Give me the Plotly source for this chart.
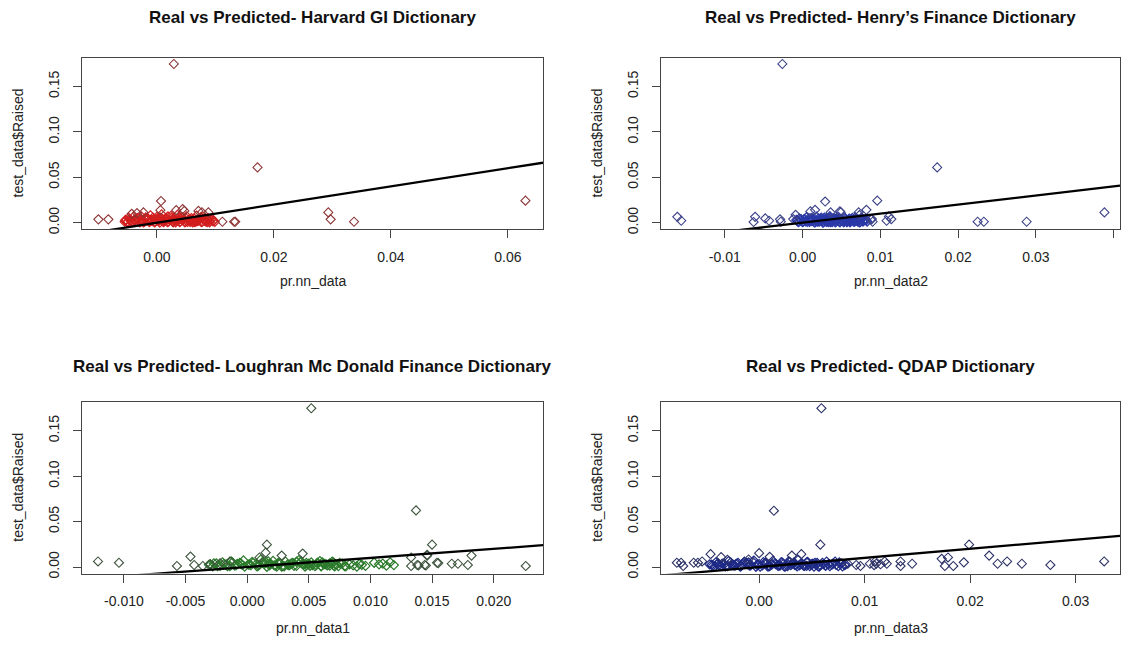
import plotly.graph_objects as go

# ---------------- data ----------------
titles = ["Real vs Predicted- Harvard GI Dictionary",
          "Real vs Predicted- Henry\u2019s Finance Dictionary",
          "Real vs Predicted- Loughran Mc Donald Finance Dictionary",
          "Real vs Predicted- QDAP Dictionary"]
x_titles = ["pr.nn_data", "pr.nn_data2", "pr.nn_data1", "pr.nn_data3"]
y_title = "test_data$Raised"
dense_colors = ["#d21e1e", "#2a38a8", "#2b7a2b", "#1e2a86"]
spread_colors = ["#8e3434", "#3c4288", "#3f543f", "#2c3266"]

# panel 1 (Harvard GI)
s1x = [-0.0100,-0.0083,0.0029,0.0172,0.0293,0.0297,0.0337,0.0630,0.0112,0.0132,
       0.0134,0.0007,0.0044,0.0033,0.0006,-0.0023,-0.0043,0.0071,0.0088,-0.0034,
       0.0047,0.0077]
s1y = [0.0037,0.0037,0.1747,0.0609,0.0113,0.0037,0.0011,0.0243,0.0011,0.0011,
       0.0011,0.0239,0.0149,0.0138,0.0138,0.0113,0.0098,0.0130,0.0113,0.0105,
       0.0130,0.0115]
c1x = [-0.0055,-0.0053,-0.0050,-0.0048,-0.0045,-0.0042,-0.0040,-0.0037,-0.0035,-0.0032,
       -0.0029,-0.0027,-0.0024,-0.0021,-0.0019,-0.0016,-0.0013,-0.0011,-0.0008,-0.0005,
       -0.0003,0.0000,0.0002,0.0005,0.0008,0.0010,0.0013,0.0016,0.0018,0.0021,
       0.0024,0.0027,0.0029,0.0032,0.0035,0.0037,0.0040,0.0043,0.0046,0.0048,
       0.0051,0.0054,0.0057,0.0059,0.0062,0.0065,0.0068,0.0070,0.0073,0.0076,
       0.0079,0.0081,0.0084,0.0087,0.0090,0.0093,0.0096,0.0099,0.0012,0.0027,
       0.0041,0.0055,-0.0009,0.0019,0.0063,-0.0020,0.0034,0.0006,-0.0038,0.0071]
c1y = [0.0012,0.0035,0.0008,0.0052,0.0021,0.0004,0.0067,0.0030,0.0015,0.0048,
       0.0003,0.0072,0.0026,0.0011,0.0058,0.0036,0.0006,0.0081,0.0019,0.0044,
       0.0009,0.0063,0.0027,0.0002,0.0091,0.0040,0.0014,0.0055,0.0007,0.0033,
       0.0076,0.0018,0.0047,0.0005,0.0085,0.0029,0.0012,0.0061,0.0038,0.0003,
       0.0070,0.0022,0.0010,0.0050,0.0031,0.0006,0.0079,0.0017,0.0043,0.0008,
       0.0064,0.0025,0.0012,0.0054,0.0004,0.0035,0.0016,0.0009,0.0024,0.0011,
       0.0045,0.0016,0.0030,0.0069,0.0013,0.0043,0.0020,0.0057,0.0026,0.0036]

# panel 2 (Henry)
s2x = [-0.0161,-0.0156,-0.0061,-0.0063,-0.0048,-0.0043,-0.0029,-0.0028,-0.0026,-0.0012,
       -0.0009,0.0029,0.0096,0.0082,0.0016,0.0010,0.0036,0.0049,0.0073,0.0088,
       0.0090,0.0108,0.0114,0.0111,0.0173,0.0225,0.0233,0.0288,0.0388,0.0048,
       0.0072,0.0089]
s2y = [0.0065,0.0022,0.0065,0.0008,0.0047,0.0022,0.0037,0.0011,0.1747,0.0040,
       0.0087,0.0233,0.0243,0.0142,0.0142,0.0124,0.0113,0.0113,0.0083,0.0040,
       0.0011,0.0022,0.0040,0.0069,0.0609,0.0011,0.0011,0.0011,0.0113,0.0125,
       0.0113,0.0040]
c2x = [-0.0008,-0.0006,-0.0004,-0.0002,0.0000,0.0002,0.0004,0.0005,0.0007,0.0009,
       0.0011,0.0012,0.0014,0.0016,0.0018,0.0019,0.0021,0.0023,0.0025,0.0026,
       0.0028,0.0030,0.0032,0.0033,0.0035,0.0037,0.0039,0.0040,0.0042,0.0044,
       0.0046,0.0047,0.0049,0.0051,0.0053,0.0054,0.0056,0.0058,0.0060,0.0061,
       0.0063,0.0065,0.0067,0.0068,0.0070,0.0072,0.0074,0.0075,0.0077,0.0079,
       0.0081,0.0083,0.0022,0.0031,0.0045,0.0052,0.0013,0.0038,0.0066,0.0017,
       0.0027,0.0048,0.0057,0.0036,0.0008,0.0071,0.0043,0.0024,0.0059,0.0034]
c2y = [0.0030,0.0012,0.0048,0.0021,0.0006,0.0039,0.0015,0.0060,0.0026,0.0009,
       0.0052,0.0018,0.0035,0.0004,0.0068,0.0024,0.0011,0.0044,0.0029,0.0002,
       0.0057,0.0016,0.0033,0.0008,0.0072,0.0041,0.0019,0.0050,0.0005,0.0027,
       0.0063,0.0013,0.0036,0.0022,0.0007,0.0055,0.0031,0.0017,0.0046,0.0003,
       0.0038,0.0025,0.0011,0.0059,0.0020,0.0034,0.0008,0.0049,0.0015,0.0028,
       0.0037,0.0012,0.0023,0.0010,0.0032,0.0018,0.0040,0.0006,0.0025,0.0014,
       0.0045,0.0019,0.0009,0.0028,0.0017,0.0013,0.0021,0.0035,0.0030,0.0011]

# panel 3 (Loughran Mc Donald)
s3x = [-0.0121,-0.0104,-0.0057,-0.0046,-0.0043,-0.0036,-0.0030,0.0016,0.0052,0.0137,
       0.0150,0.0226,0.0182,0.0179,0.0166,0.0171,0.0154,0.0155,0.0146,0.0133,
       0.0133,0.0138,0.0144,0.0045,0.0028,0.0015,0.0010,0.0139,0.0145,0.0146,
       -0.0022,-0.0014]
s3y = [0.0061,0.0047,0.0011,0.0115,0.0022,0.0011,0.0033,0.0246,0.1747,0.0623,
       0.0246,0.0011,0.0126,0.0022,0.0036,0.0036,0.0047,0.0043,0.0126,0.0105,
       0.0011,0.0022,0.0022,0.0148,0.0126,0.0158,0.0105,0.0017,0.0017,0.0134,
       0.0040,0.0060]
c3x = [-0.0031,-0.0027,-0.0024,-0.0020,-0.0017,-0.0013,-0.0010,-0.0006,-0.0003,0.0001,
       0.0004,0.0008,0.0011,0.0014,0.0018,0.0021,0.0025,0.0028,0.0031,0.0035,
       0.0038,0.0042,0.0045,0.0048,0.0052,0.0055,0.0059,0.0062,0.0065,0.0069,
       0.0072,0.0075,0.0079,0.0083,0.0086,0.0089,0.0093,0.0096,0.0103,0.0107,
       0.0110,0.0113,0.0116,0.0119,0.0012,0.0023,0.0033,0.0040,0.0050,0.0060,
       0.0067,0.0003,-0.0008,0.0017,0.0029,0.0046,0.0057,0.0070,0.0080,0.0091]
c3y = [0.0024,0.0041,0.0010,0.0052,0.0030,0.0063,0.0015,0.0045,0.0072,0.0027,
       0.0055,0.0008,0.0081,0.0036,0.0019,0.0068,0.0042,0.0005,0.0059,0.0031,
       0.0013,0.0076,0.0038,0.0022,0.0050,0.0009,0.0065,0.0033,0.0017,0.0060,
       0.0026,0.0044,0.0011,0.0030,0.0018,0.0005,0.0024,0.0012,0.0047,0.0029,
       0.0038,0.0015,0.0052,0.0021,0.0048,0.0016,0.0028,0.0058,0.0035,0.0012,
       0.0040,0.0020,0.0034,0.0062,0.0011,0.0026,0.0046,0.0019,0.0007,0.0033]

# panel 4 (QDAP)
s4x = [-0.0078,-0.0074,-0.0072,-0.0062,-0.0058,-0.0054,-0.0046,-0.0036,-0.0030,-0.0010,
       0.0000,0.0010,0.0014,0.0031,0.0040,0.0058,0.0059,0.0084,0.0092,0.0096,
       0.0105,0.0110,0.0111,0.0119,0.0121,0.0134,0.0134,0.0145,0.0173,0.0179,
       0.0176,0.0184,0.0194,0.0199,0.0218,0.0226,0.0235,0.0249,0.0276,0.0327,
       0.0109,0.0115]
s4y = [0.0047,0.0047,0.0011,0.0047,0.0047,0.0061,0.0141,0.0108,0.0080,0.0083,
       0.0152,0.0112,0.0619,0.0126,0.0141,0.0246,0.1747,0.0036,0.0022,0.0011,
       0.0036,0.0061,0.0036,0.0061,0.0036,0.0061,0.0011,0.0036,0.0090,0.0105,
       0.0011,0.0011,0.0051,0.0246,0.0126,0.0036,0.0061,0.0036,0.0022,0.0061,
       0.0020,0.0030]
c4x = [-0.0047,-0.0044,-0.0041,-0.0038,-0.0035,-0.0032,-0.0029,-0.0026,-0.0023,-0.0020,
       -0.0017,-0.0014,-0.0011,-0.0008,-0.0005,-0.0002,0.0001,0.0004,0.0007,0.0010,
       0.0013,0.0016,0.0019,0.0022,0.0025,0.0028,0.0031,0.0034,0.0037,0.0040,
       0.0043,0.0046,0.0049,0.0052,0.0055,0.0058,0.0061,0.0064,0.0067,0.0070,
       0.0073,0.0076,0.0079,0.0082,0.0005,0.0020,0.0035,0.0050,-0.0030,-0.0015,
       0.0027,0.0042,0.0063,0.0012,-0.0040,0.0056,0.0033,0.0018,0.0045,-0.0022]
c4y = [0.0030,0.0012,0.0051,0.0022,0.0038,0.0006,0.0064,0.0027,0.0015,0.0046,
       0.0009,0.0058,0.0033,0.0019,0.0071,0.0025,0.0004,0.0053,0.0036,0.0011,
       0.0068,0.0029,0.0016,0.0048,0.0007,0.0062,0.0034,0.0020,0.0079,0.0041,
       0.0013,0.0055,0.0026,0.0005,0.0044,0.0018,0.0031,0.0059,0.0010,0.0037,
       0.0023,0.0050,0.0008,0.0028,0.0040,0.0019,0.0025,0.0032,0.0014,0.0043,
       0.0011,0.0024,0.0017,0.0035,0.0029,0.0008,0.0048,0.0021,0.0013,0.0031]

# extra observations in the dense core (same Raised values for every dictionary)
dense_y = [0.0025,0.0006,0.0040,0.0013,0.0032,0.0009,0.0050,0.0022,0.0037,0.0005,
           0.0028,0.0046,0.0015,0.0056,0.0003,0.0031,0.0019,0.0048,0.0008,0.0026,
           0.0041,0.0012,0.0053,0.0004,0.0035,0.0021,0.0044,0.0007,0.0029,0.0016,
           0.0052,0.0010,0.0038,0.0023,0.0005,0.0046,0.0014,0.0033,0.0026,0.0058,
           0.0011,0.0040,0.0020,0.0007,0.0034,0.0017,0.0045,0.0024,0.0050,0.0055]
d1x = [-0.0054,-0.0051,-0.0046,-0.0043,-0.0039,-0.0036,-0.0033,-0.0030,-0.0026,-0.0023,
       -0.0018,-0.0015,-0.0012,-0.0007,-0.0004,-0.0001,0.0003,0.0007,0.0011,0.0014,
       0.0017,0.0020,0.0025,0.0028,0.0030,0.0033,0.0036,0.0039,0.0044,0.0047,
       0.0049,0.0052,0.0056,0.0060,0.0061,0.0064,0.0067,0.0069,0.0072,0.0075,
       0.0078,0.0080,0.0083,0.0086,0.0088,0.0091,0.0094,0.0097,0.0002,0.0038]
d2x = [-0.0007,-0.0005,-0.0002,0.0001,0.0003,0.0006,0.0008,0.0010,0.0013,0.0015,
       0.0017,0.0020,0.0022,0.0024,0.0027,0.0029,0.0031,0.0034,0.0036,0.0038,
       0.0041,0.0043,0.0045,0.0048,0.0050,0.0052,0.0055,0.0057,0.0059,0.0062,
       0.0064,0.0066,0.0069,0.0071,0.0073,0.0076,0.0078,0.0080,0.0082,0.0035,
       0.0019,0.0047,0.0026,0.0053,0.0012,0.0060,0.0039,0.0068,0.0031,0.0044]
d3x = [-0.0030,-0.0028,-0.0025,-0.0022,-0.0019,-0.0016,-0.0012,-0.0009,-0.0005,-0.0002,
       0.0002,0.0005,0.0009,0.0013,0.0016,0.0019,0.0022,0.0026,0.0030,0.0033,
       0.0036,0.0040,0.0043,0.0047,0.0050,0.0053,0.0057,0.0060,0.0064,0.0067,
       0.0070,0.0074,0.0077,0.0010,0.0024,0.0037,0.0051,0.0063,0.0007,0.0044,
       -0.0014,0.0027,0.0056,0.0071,0.0018,0.0034,0.0048,-0.0004,0.0061,0.0015]
d4x = [-0.0045,-0.0042,-0.0039,-0.0036,-0.0033,-0.0030,-0.0027,-0.0024,-0.0021,-0.0018,
       -0.0016,-0.0012,-0.0009,-0.0006,-0.0003,0.0000,0.0003,0.0006,0.0009,0.0012,
       0.0015,0.0018,0.0021,0.0024,0.0027,0.0030,0.0033,0.0036,0.0039,0.0042,
       0.0045,0.0048,0.0051,0.0054,0.0057,0.0060,0.0063,0.0066,0.0069,0.0072,
       0.0075,0.0078,0.0081,0.0008,0.0023,0.0038,0.0053,-0.0025,-0.0010,0.0029]

x_ranges = [[-0.0128, 0.0660], [-0.0182, 0.0408], [-0.0134, 0.0240], [-0.0093, 0.0342]]
y_range = [-0.0072, 0.1817]
x_tickvals = [[0, 0.02, 0.04, 0.06],
              [-0.01, 0, 0.01, 0.02, 0.03, 0.04],
              [-0.010, -0.005, 0, 0.005, 0.010, 0.015, 0.020],
              [0, 0.01, 0.02, 0.03]]
x_ticktext = [["0.00", "0.02", "0.04", "0.06"],
              ["-0.01", "0.00", "0.01", "0.02", "0.03", "0.04"],
              ["-0.010", "-0.005", "0.000", "0.005", "0.010", "0.015", "0.020"],
              ["0.00", "0.01", "0.02", "0.03"]]
y_tickvals = [0, 0.05, 0.10, 0.15]
y_ticktext = ["0.00", "0.05", "0.10", "0.15"]

spread_x = [s1x, s2x, s3x, s4x]
spread_y = [s1y, s2y, s3y, s4y]
core_x = [c1x + d1x, c2x + d2x, c3x + d3x, c4x + d4x]
core_y = [c1y + dense_y, c2y + dense_y, c3y + dense_y, c4y + dense_y]

# ---------------- layout geometry (pixels inside the figure; page has an 8px body margin) ----------------
W, H = 1117, 640
boxes = [(74, 535, 50, 223), (653, 1112, 50, 223), (74, 535, 397, 570), (653, 1112, 397, 570)]
title_rows = [10, 10, 361, 361]
xtitle_rows = [275, 275, 625, 625]
ytitle_cols = [10, 589, 10, 589]

FONT = "Liberation Sans, Arial, sans-serif"
fig = go.Figure()
layout = dict(width=W, height=H, margin=dict(l=0, r=0, t=0, b=0),
              paper_bgcolor="white", plot_bgcolor="white", showlegend=False,
              font=dict(family=FONT, color="#222"))
annotations = []

for i in range(4):
    n = "" if i == 0 else str(i + 1)
    xa, ya = "x" + n, "y" + n
    l, r, t, b = boxes[i]
    xd = [l / W, r / W]
    yd = [1 - b / H, 1 - t / H]
    fig.add_trace(go.Scatter(x=core_x[i], y=core_y[i], mode="markers", xaxis=xa, yaxis=ya,
                             marker=dict(symbol="diamond-open", size=7, color=dense_colors[i],
                                         line=dict(width=1.2, color=dense_colors[i]))))
    fig.add_trace(go.Scatter(x=spread_x[i], y=spread_y[i], mode="markers", xaxis=xa, yaxis=ya,
                             marker=dict(symbol="diamond-open", size=7, color=spread_colors[i],
                                         line=dict(width=1.1, color=spread_colors[i]))))
    fig.add_trace(go.Scatter(x=x_ranges[i], y=x_ranges[i], mode="lines", xaxis=xa, yaxis=ya,
                             line=dict(color="black", width=2.3)))
    axcommon = dict(showline=True, mirror=True, linecolor="#444", linewidth=1,
                    ticks="outside", ticklen=8, tickcolor="#444", tickwidth=1,
                    showgrid=False, zeroline=False,
                    tickfont=dict(family=FONT, size=14, color="#222"))
    layout["xaxis" + n] = dict(domain=xd, anchor=ya, range=x_ranges[i],
                               tickmode="array", tickvals=x_tickvals[i], ticktext=x_ticktext[i],
                               ticklabelstandoff=7, **axcommon)
    layout["yaxis" + n] = dict(domain=yd, anchor=xa, range=y_range,
                               tickmode="array", tickvals=y_tickvals, ticktext=y_ticktext,
                               tickangle=-90, ticklabelstandoff=8, **axcommon)
    cx = (l + r) / 2 / W
    annotations.append(dict(text="<b>" + titles[i] + "</b>", x=cx, y=1 - title_rows[i] / H,
                            xref="paper", yref="paper", showarrow=False,
                            xanchor="center", yanchor="middle",
                            font=dict(family=FONT, size=17, color="#111")))
    annotations.append(dict(text=x_titles[i], x=cx, y=1 - xtitle_rows[i] / H,
                            xref="paper", yref="paper",
                            showarrow=False, xanchor="center", yanchor="middle",
                            font=dict(family=FONT, size=14, color="#222")))
    annotations.append(dict(text=y_title, x=ytitle_cols[i] / W, y=1 - (t + b) / 2 / H,
                            xref="paper", yref="paper", showarrow=False, textangle=-90,
                            xanchor="center", yanchor="middle",
                            font=dict(family=FONT, size=14, color="#222")))

layout["annotations"] = annotations
fig.update_layout(**layout)
fig.write_html("out.html")
